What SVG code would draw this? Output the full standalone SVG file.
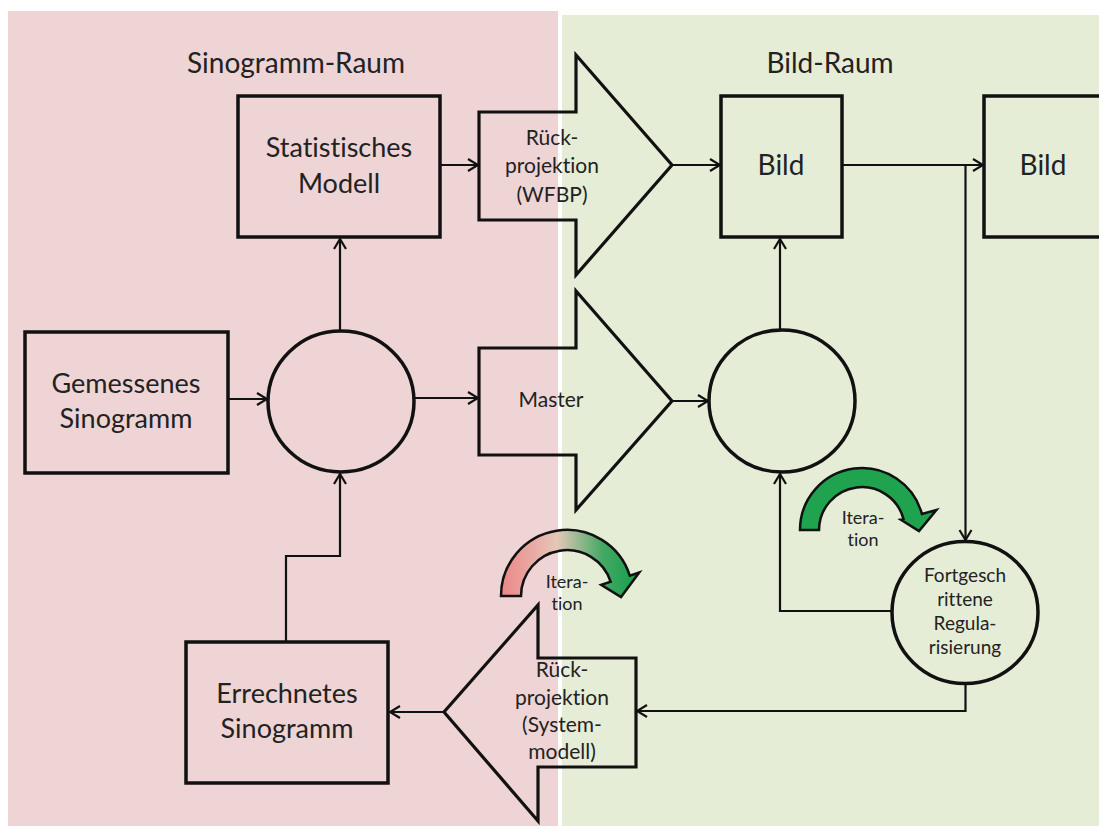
<svg xmlns="http://www.w3.org/2000/svg" width="1099" height="826" viewBox="0 0 1099 826">
  <defs>
    <style>
      .lbl { font-family: Lato, "Liberation Sans", sans-serif; fill: #222; text-anchor: middle; font-variant-ligatures: none; font-feature-settings: "liga" 0, "clig" 0; }
      .big { font-size: 27px; }
      .mid { font-size: 21px; }
      .sm { font-size: 19px; }
      .xs { font-size: 18px; }
      .box { fill: none; stroke: #111; stroke-width: 3.5; }
      .shape { fill: none; stroke: #111; stroke-width: 3.2; stroke-linejoin: miter; }
      .conn { fill: none; stroke: #111; stroke-width: 2.2; marker-end: url(#arr); }
      .curl { stroke: #111; stroke-width: 2.5; stroke-linejoin: miter; }
    </style>
    <marker id="arr" viewBox="-13 -8 15 16" refX="0" refY="0" markerWidth="15" markerHeight="16" markerUnits="userSpaceOnUse" orient="auto">
      <path d="M-10,-6 L0,0 L-10,6" fill="none" stroke="#111" stroke-width="2.2"/>
    </marker>
    <linearGradient id="fade" gradientUnits="userSpaceOnUse" x1="505" y1="0" x2="635" y2="0">
      <stop offset="0" stop-color="#EC8A8C"/>
      <stop offset="0.4" stop-color="#E4C7B8"/>
      <stop offset="0.75" stop-color="#45A865"/>
      <stop offset="1" stop-color="#18A04C"/>
    </linearGradient>
  </defs>

  <!-- backgrounds -->
  <rect x="0" y="0" width="1099" height="826" fill="#ffffff"/>
  <rect x="8" y="11" width="550" height="815" fill="#EED4D5"/>
  <rect x="562" y="15" width="537" height="811" fill="#E6EDD7"/>

  <!-- region titles -->
  <text class="lbl" x="296" y="73" style="font-size:28px">Sinogramm-Raum</text>
  <text class="lbl" x="830" y="73" style="font-size:28px">Bild-Raum</text>

  <!-- connectors -->
  <g id="connectors">
    <path class="conn" d="M440,165 H478"/>
    <path class="conn" d="M673,165 H720"/>
    <path class="conn" d="M842,165 H983"/>
    <path class="conn" d="M965.5,165 V540"/>
    <path class="conn" d="M228,399 H267"/>
    <path class="conn" d="M414,398 H478"/>
    <path class="conn" d="M340,331 V239"/>
    <path class="conn" d="M673,401 H708"/>
    <path class="conn" d="M780,330 V239"/>
    <path class="conn" d="M892,611 H780 V474"/>
    <path class="conn" d="M965.5,683 V711 H637"/>
    <path class="conn" d="M444,712 H390"/>
    <path class="conn" d="M286,642 V556 H340 V474"/>
  </g>

  <!-- nodes -->
  <g id="statistisches-modell">
    <rect class="box" x="238" y="96" width="202" height="141"/>
    <text class="lbl big" x="339" y="157">Statistisches</text>
    <text class="lbl big" x="339" y="193">Modell</text>
  </g>

  <g id="rueckprojektion-wfbp">
    <path class="shape" d="M479,112 H576 V55 L672,165 L576,275 V220 H479 Z"/>
    <text class="lbl mid" x="552" y="145">Rück-</text>
    <text class="lbl mid" x="552" y="173">projektion</text>
    <text class="lbl mid" x="552" y="202">(WFBP)</text>
  </g>

  <g id="bild">
    <rect class="box" x="721" y="96" width="121" height="141"/>
    <text class="lbl" x="781" y="175" style="font-size:28px">Bild</text>
  </g>

  <g id="bild-out">
    <rect class="box" x="984" y="96" width="130" height="141"/>
    <text class="lbl" x="1043" y="175" style="font-size:28px">Bild</text>
  </g>

  <g id="gemessenes-sinogramm">
    <rect class="box" x="25" y="332" width="203" height="141"/>
    <text class="lbl big" x="126" y="393">Gemessenes</text>
    <text class="lbl big" x="126" y="428">Sinogramm</text>
  </g>

  <g id="vergleich">
    <ellipse class="box" cx="341" cy="401.5" rx="73" ry="70.5"/>
  </g>

  <g id="master">
    <path class="shape" d="M479,348 H576 V291 L672,401 L576,510 V455 H479 Z"/>
    <text class="lbl mid" x="551" y="407">Master</text>
  </g>

  <g id="bild-update">
    <ellipse class="box" cx="782" cy="401" rx="73" ry="71"/>
  </g>

  <g id="regularisierung">
    <ellipse class="box" cx="965" cy="612.5" rx="73" ry="71"/>
    <text class="lbl sm" x="965" y="582">Fortgesch</text>
    <text class="lbl sm" x="965" y="606">rittene</text>
    <text class="lbl sm" x="965" y="630">Regula-</text>
    <text class="lbl sm" x="965" y="654">risierung</text>
  </g>

  <g id="rueckprojektion-systemmodell">
    <path class="shape" d="M636,658 H538 V605 L444,712 L538,821 V767 H636 Z"/>
    <text class="lbl mid" x="562" y="677">Rück-</text>
    <text class="lbl mid" x="562" y="705">projektion</text>
    <text class="lbl mid" x="562" y="732">(System-</text>
    <text class="lbl mid" x="562" y="759">modell)</text>
  </g>

  <g id="errechnetes-sinogramm">
    <rect class="box" x="186" y="642" width="202" height="141"/>
    <text class="lbl big" x="287" y="703">Errechnetes</text>
    <text class="lbl big" x="287" y="738">Sinogramm</text>
  </g>

  <!-- iteration marks -->
  <g id="iteration-bild">
    <path class="curl" fill="#1FA34E" d="M800,530 A62,62 0 0 1 921.9,514 L936.4,510 L919,531 L900.6,519.6 L903.5,518.9 A43,43 0 0 0 819,530 Z"/>
    <text class="lbl xs" x="863" y="524">Itera-</text>
    <text class="lbl xs" x="863" y="546">tion</text>
  </g>

  <g id="iteration-gesamt">
    <path class="curl" fill="url(#fade)" d="M501,596 A66,66 0 0 1 629.8,575.6 L639.3,572.5 L621,597 L601.2,584.9 L610.7,581.8 A46,46 0 0 0 521,596 Z"/>
    <text class="lbl xs" x="567" y="588">Itera-</text>
    <text class="lbl xs" x="567" y="610">tion</text>
  </g>
</svg>
